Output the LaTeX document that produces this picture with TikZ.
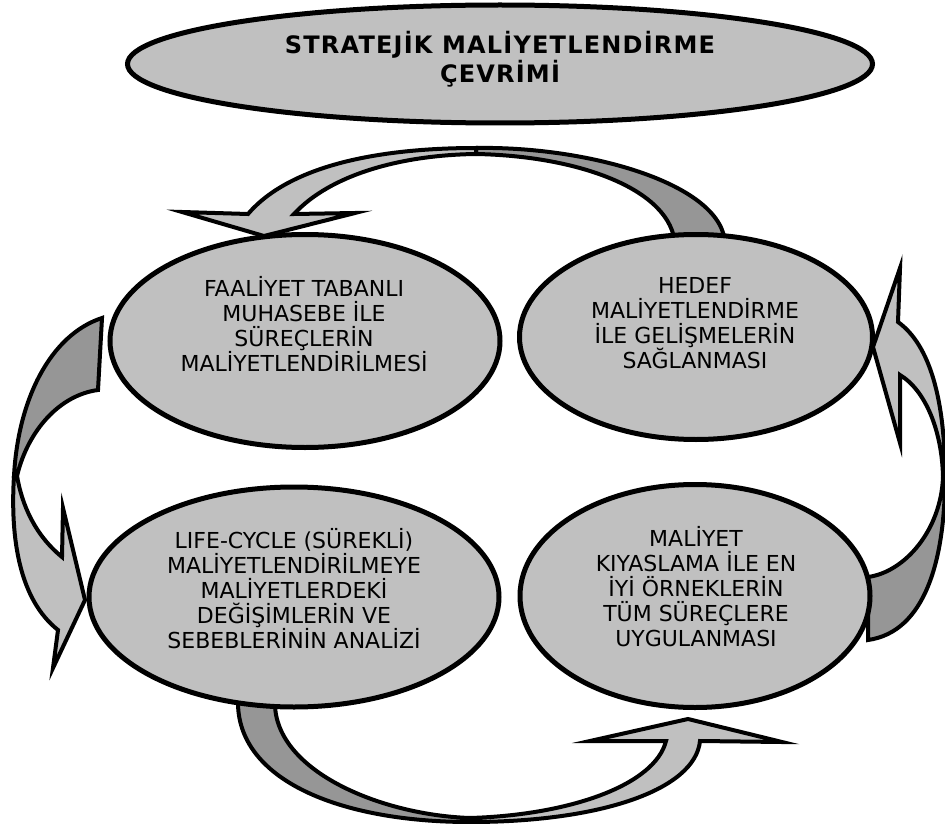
\documentclass[tikz,border=0pt]{standalone}
\usepackage{fontspec}
\setmainfont{DejaVu Sans}
\usetikzlibrary{shapes.geometric}
\definecolor{facegray}{HTML}{C0C0C0}
\definecolor{backgray}{HTML}{969696}
\begin{document}
\begin{tikzpicture}[x=1pt,y=-1pt,
  stage/.style={ellipse, draw=black, line width=5pt, fill=facegray, inner sep=0pt},
  stagetext/.style={anchor=north, align=center, inner sep=0pt,
    font=\fontsize{22}{25}\selectfont},
  front/.style={draw=black, line width=4pt, fill=facegray, line join=miter},
  back/.style={draw=black, line width=4pt, fill=backgray, line join=miter}]
\useasboundingbox (0,0) rectangle (945,824);

% ---- curved ribbon arrows (drawn first, the stage ellipses sit on top) ----
% top: from the target-costing stage back to activity-based costing
\path[back] (476,148) .. controls (590,146) and (725,185) .. (725,245)
  -- (675,245) .. controls (672,190) and (580,156) .. (476,154) -- cycle;
\path[front] (182,212) -- (248,214) .. controls (290,165) and (380,148) .. (476,148)
  -- (476,154) .. controls (400,155) and (330,175) .. (294,214)
  -- (355,213) -- (264,236) -- cycle;

% left: from activity-based costing down to life-cycle analysis
\path[back] (102,318) -- (98,390) .. controls (60,395) and (28,430) .. (17,476)
  -- (14,476) .. controls (18,400) and (50,335) .. (102,318) -- cycle;
\path[front] (14,476) .. controls (10,540) and (20,600) .. (58,630)
  -- (53,668) -- (85,600) -- (63,508) -- (62,557)
  .. controls (35,535) and (22,505) .. (17,476) -- cycle;

% bottom: from life-cycle analysis across to benchmarking
\path[back] (238,700) -- (275,700) .. controls (272,770) and (380,815) .. (470,818)
  -- (470,822) .. controls (340,822) and (236,780) .. (238,700) -- cycle;
\path[front] (470,822) .. controls (600,822) and (695,790) .. (700,741)
  -- (782,742) -- (688,719) -- (590,741) -- (666,741)
  .. controls (655,785) and (570,815) .. (470,818) -- cycle;

% right: from benchmarking up to target costing
\path[back] (868,640) .. controls (925,632) and (945,560) .. (945,477)
  -- (943,477) .. controls (941,530) and (905,572) .. (868,577) -- cycle;
\path[front] (945,477) .. controls (945,400) and (930,345) .. (898,322)
  -- (900,268) -- (873,347) -- (900,443) -- (900,375)
  .. controls (925,390) and (942,430) .. (943,477) -- cycle;

% ---- title ----
\node[stage, minimum width=745pt, minimum height=118pt] (title) at (500,64) {};
\node[anchor=north, align=center, inner sep=0pt,
  font=\bfseries\fontsize{24}{29}\selectfont\addfontfeatures{LetterSpace=5}]
  (titletext) at (500,30) {\rule{0pt}{23pt}STRATEJİK MALİYETLENDİRME\\ÇEVRİMİ};

% ---- the four stages ----
\node[stage, minimum width=390pt, minimum height=213pt] (abc) at (305,341) {};
\node[stage, minimum width=353pt, minimum height=205pt] (target) at (696,337) {};
\node[stage, minimum width=410pt, minimum height=220pt] (life) at (294,597) {};
\node[stage, minimum width=350pt, minimum height=223pt] (bench) at (695,596) {};

\node[stagetext] (abctext) at (304,275)
  {\rule{0pt}{21pt}FAALİYET TABANLI\\MUHASEBE İLE\\SÜREÇLERİN\\MALİYETLENDİRİLMESİ};
\node[stagetext] (targettext) at (695,272)
  {\rule{0pt}{21pt}HEDEF\\MALİYETLENDİRME\\İLE GELİŞMELERİN\\SAĞLANMASI};
\node[stagetext] (lifetext) at (294,527)
  {\rule{0pt}{21pt}LIFE-CYCLE (SÜREKLİ)\\MALİYETLENDİRİLMEYE\\MALİYETLERDEKİ\\DEĞİŞİMLERİN VE\\SEBEBLERİNİN ANALİZİ};
\node[stagetext] (benchtext) at (696,525)
  {\rule{0pt}{21pt}MALİYET\\KIYASLAMA İLE EN\\İYİ ÖRNEKLERİN\\TÜM SÜREÇLERE\\UYGULANMASI};
\end{tikzpicture}
\end{document}
